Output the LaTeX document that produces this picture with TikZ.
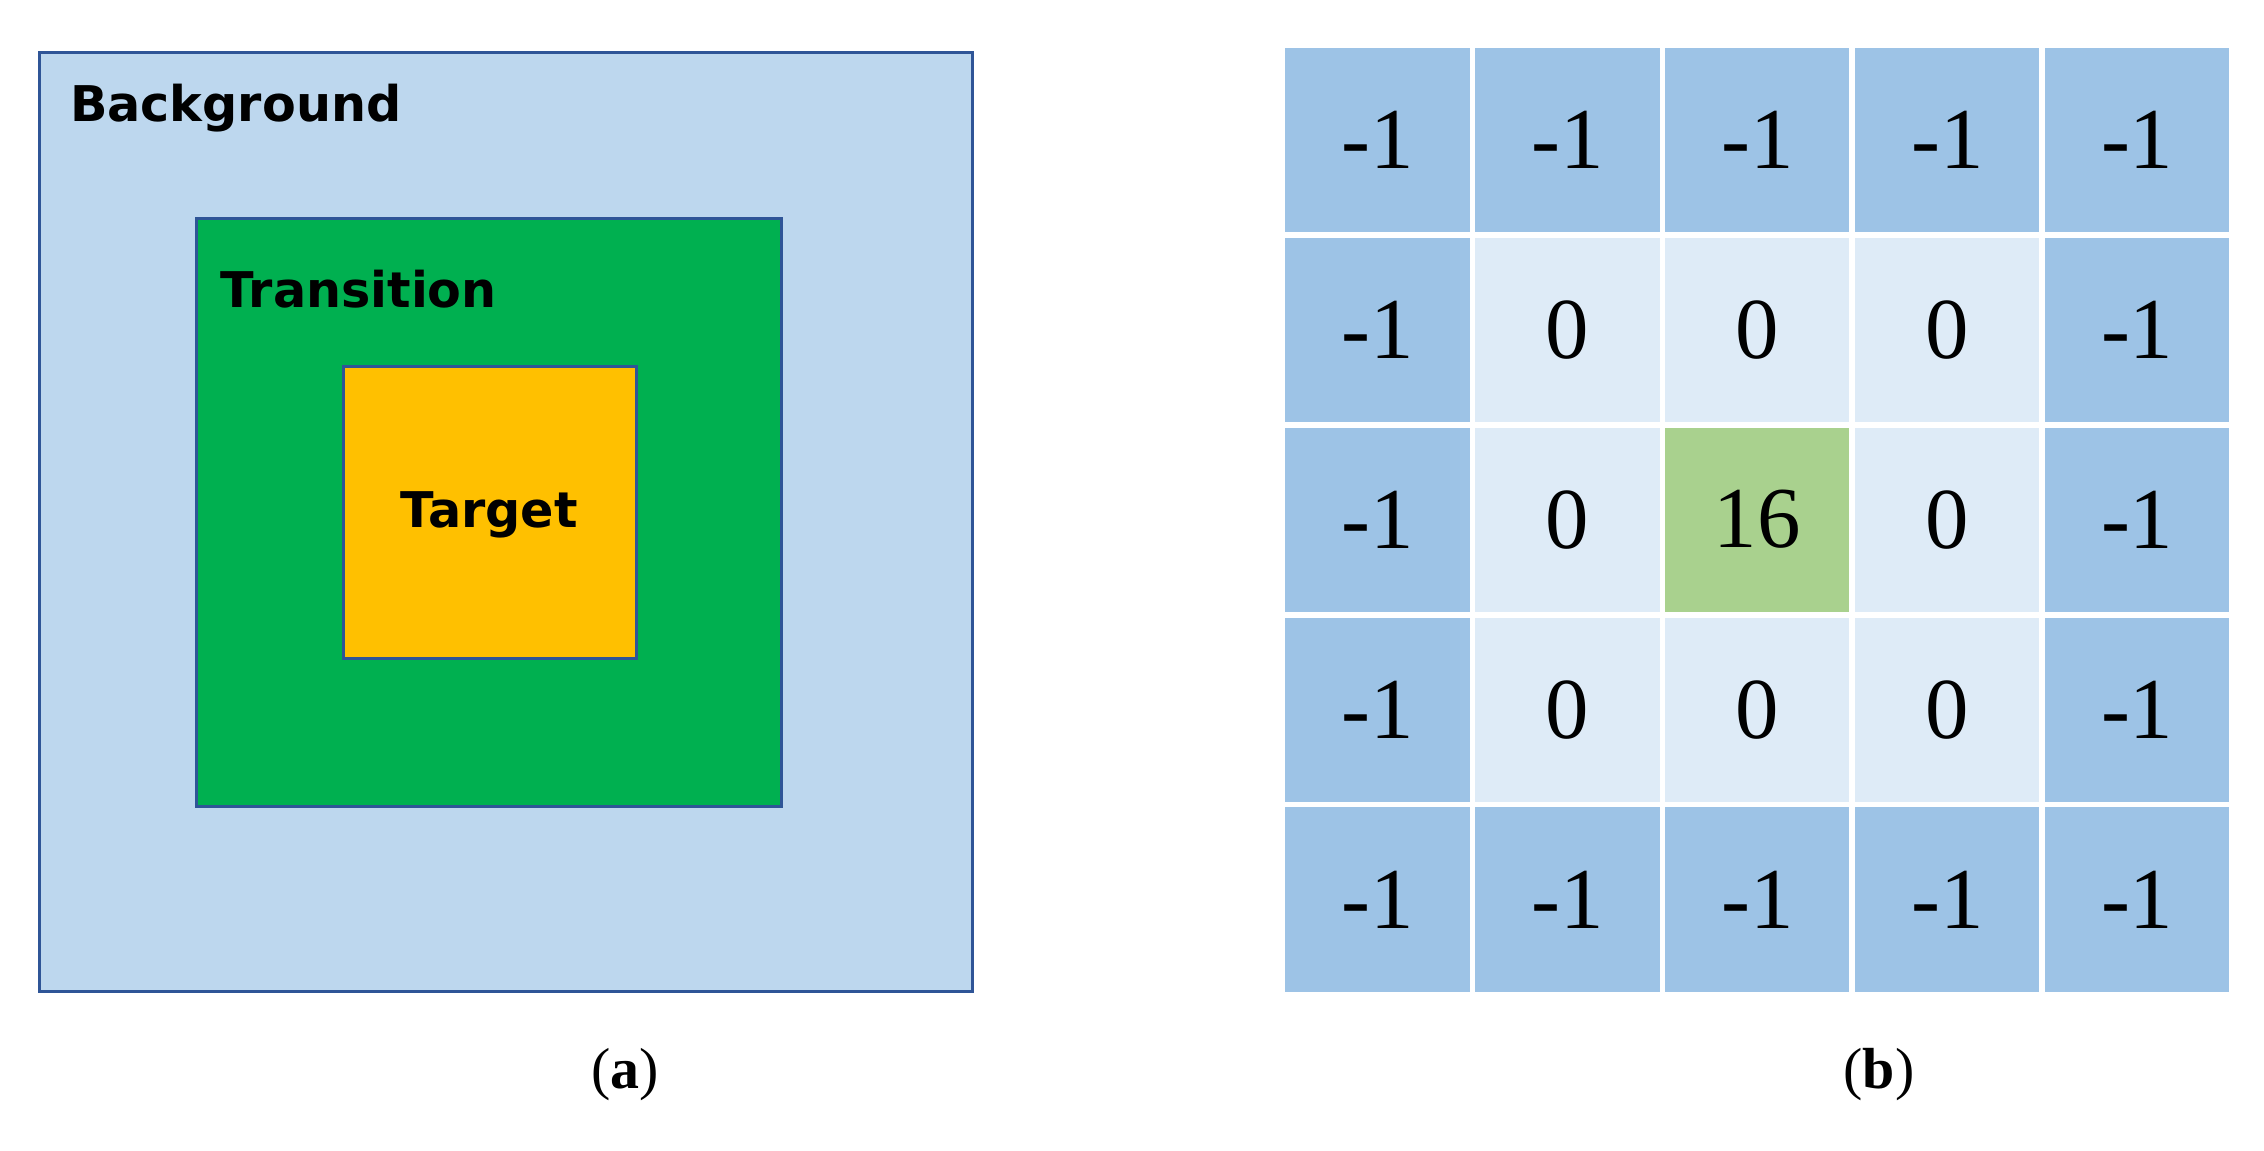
\documentclass[tikz,border=0pt]{standalone}
\usepackage{fontspec}
\setmainfont{Liberation Serif}
\setsansfont{DejaVu Sans}
\definecolor{bgc}{HTML}{BDD7EE}
\definecolor{trc}{HTML}{00B050}
\definecolor{tgc}{HTML}{FFC000}
\definecolor{edge}{HTML}{2F5597}
\definecolor{dk}{HTML}{9DC3E6}
\definecolor{lt}{HTML}{DEEBF7}
\definecolor{gr}{HTML}{A9D18E}
\begin{document}
\begin{tikzpicture}[x=0.5pt,y=-0.5pt,
  region/.style={draw=edge,line width=1pt},
  lab/.style={font=\sffamily\bfseries\fontsize{17}{20}\selectfont,anchor=west,inner sep=0},
  cell/.style={draw=white,line width=2pt,minimum size=65.6pt,inner sep=0,font=\fontsize{30}{34}\selectfont},
  captext/.style={font=\fontsize{20}{24}\selectfont}]
\useasboundingbox (0,0) rectangle (1564,795);
\draw[region,fill=bgc] (27,36) rectangle (672,685);
\draw[region,fill=trc] (136,151) rectangle (540,557);
\draw[region,fill=tgc] (237,253) rectangle (440,455);
\node[lab] (bg) at (48,75) {Background};
\node[lab] (tr) at (152,200) {Transition};
\node[lab,anchor=center] (tg) at (338,356) {Target};
\node[captext] (ca) at (432,742) {(\textbf{a})};
\node[captext] (cb) at (1298,742) {(\textbf{b})};
\foreach \r in {0,...,4}{
  \foreach \c in {0,...,4}{
    \pgfmathtruncatemacro{\border}{(\r==0||\r==4||\c==0||\c==4)?1:0}
    \pgfmathtruncatemacro{\mid}{(\r==2&&\c==2)?1:0}
    \ifnum\border=1
      \node[cell,fill=dk] (c\r\c) at ({886+65.6+\c*131.2},{31+65.6+\r*131.2}) {-1};
    \else\ifnum\mid=1
      \node[cell,fill=gr] (c\r\c) at ({886+65.6+\c*131.2},{31+65.6+\r*131.2}) {16};
    \else
      \node[cell,fill=lt] (c\r\c) at ({886+65.6+\c*131.2},{31+65.6+\r*131.2}) {0};
    \fi\fi
  }
}
\end{tikzpicture}
\end{document}
